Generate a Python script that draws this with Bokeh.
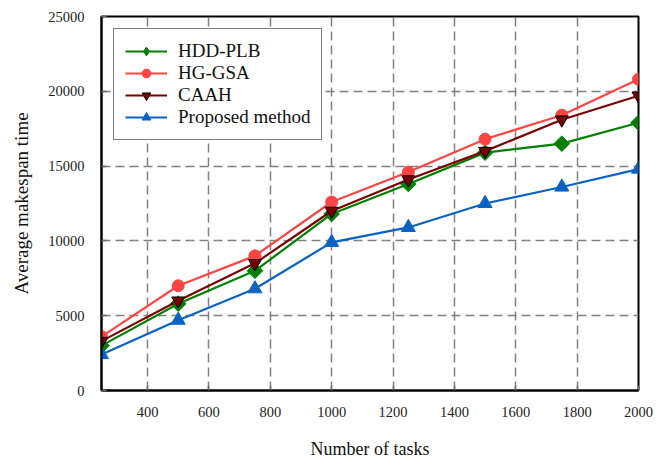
import math
from bokeh.plotting import figure
from bokeh.models import Range1d, FixedTicker, Legend, LegendItem
from bokeh.embed import file_html
from bokeh.resources import INLINE

tasks = [250, 500, 750, 1000, 1250, 1500, 1750, 2000]
hdd_plb = [3000, 5800, 8000, 11800, 13800, 15900, 16500, 17900]
hg_gsa = [3600, 7000, 9000, 12600, 14600, 16800, 18400, 20800]
caah = [3300, 6000, 8500, 12000, 14100, 16000, 18100, 19700]
proposed = [2400, 4700, 6800, 9900, 10900, 12500, 13600, 14800]

x_ticks = [400, 600, 800, 1000, 1200, 1400, 1600, 1800, 2000]
y_ticks = [0, 5000, 10000, 15000, 20000, 25000]

FONT = "Liberation Serif"

p = figure(width=665, height=461, output_backend="svg", toolbar_location=None,
           x_range=Range1d(250, 2000), y_range=Range1d(0, 25000),
           min_border_left=101, min_border_top=16, min_border_right=27, min_border_bottom=68)
p.background_fill_color = "white"
p.border_fill_color = "white"
p.outline_line_color = "black"
p.outline_line_width = 2
p.outline_line_alpha = 1

for ax in (p.xaxis[0], p.yaxis[0]):
    ax.axis_line_color = "black"
    ax.axis_line_width = 2
    ax.major_tick_in = 5
    ax.major_tick_out = 0
    ax.major_tick_line_color = "#666666"
    ax.major_tick_line_width = 1.5
    ax.minor_tick_line_color = None
    ax.major_label_text_font = FONT
    ax.major_label_text_font_size = "14.5px"
    ax.major_label_text_color = "#222222"
    ax.axis_label_text_font = FONT
    ax.axis_label_text_font_style = "normal"
    ax.axis_label_text_color = "#111111"

p.xaxis[0].ticker = FixedTicker(ticks=x_ticks)
p.yaxis[0].ticker = FixedTicker(ticks=y_ticks)
p.xaxis[0].axis_label = "Number of tasks"
p.yaxis[0].axis_label = "Average makespan time"
p.xaxis[0].axis_label_text_font_size = "18px"
p.yaxis[0].axis_label_text_font_size = "19px"
p.xaxis[0].major_label_standoff = 16
p.yaxis[0].major_label_standoff = 17
p.xaxis[0].axis_label_standoff = 19
p.yaxis[0].axis_label_standoff = 13

p.xgrid[0].ticker = FixedTicker(ticks=[400, 600, 800, 1000, 1200, 1400, 1600, 1800])
p.ygrid[0].ticker = FixedTicker(ticks=[5000, 10000, 15000, 20000])
for g in (p.xgrid[0], p.ygrid[0]):
    g.grid_line_color = "#808080"
    g.grid_line_width = 1.5
    g.grid_line_dash = "9 5"
    g.grid_line_alpha = 1

c_green = "#008000"
c_red = "#ff4444"
c_dred = "#7a0000"
c_blue = "#0a62c4"

nan = float("nan")

l1 = p.line(tasks, hdd_plb, line_color=c_green, line_width=2.2)
m1 = p.scatter(tasks, hdd_plb, marker="square", size=11, angle=math.pi / 4,
               fill_color=c_green, line_color=c_green)
# legend-only diamond (rotated squares are not rotated in legends)
m1_leg = p.scatter([nan], [nan], marker="diamond", size=11, fill_color=c_green, line_color=c_green)
l2 = p.line(tasks, hg_gsa, line_color=c_red, line_width=2.2)
m2 = p.scatter(tasks, hg_gsa, marker="circle", size=12, fill_color=c_red, line_color=c_red)
l3 = p.line(tasks, caah, line_color=c_dred, line_width=2.2)
m3 = p.scatter(tasks, caah, marker="inverted_triangle", size=13, fill_color=c_dred, line_color="black", line_width=1)
l4 = p.line(tasks, proposed, line_color=c_blue, line_width=2.2)
m4 = p.scatter(tasks, proposed, marker="triangle", size=14, fill_color=c_blue, line_color=c_blue)

legend = Legend(items=[
    LegendItem(label="HDD-PLB", renderers=[l1, m1_leg]),
    LegendItem(label="HG-GSA", renderers=[l2, m2]),
    LegendItem(label="CAAH", renderers=[l3, m3]),
    LegendItem(label="Proposed method", renderers=[l4, m4]),
], location="top_left")
legend.margin = 12
legend.padding = 11
legend.spacing = 0
legend.glyph_width = 42
legend.glyph_height = 22
legend.label_height = 22
legend.label_standoff = 11
legend.label_text_font = FONT
legend.label_text_font_size = "19px"
legend.label_text_color = "#111111"
legend.border_line_color = "black"
legend.border_line_width = 1.2
legend.background_fill_color = "white"
legend.background_fill_alpha = 1
p.add_layout(legend)

open("out.html", "w").write(file_html(p, INLINE))
